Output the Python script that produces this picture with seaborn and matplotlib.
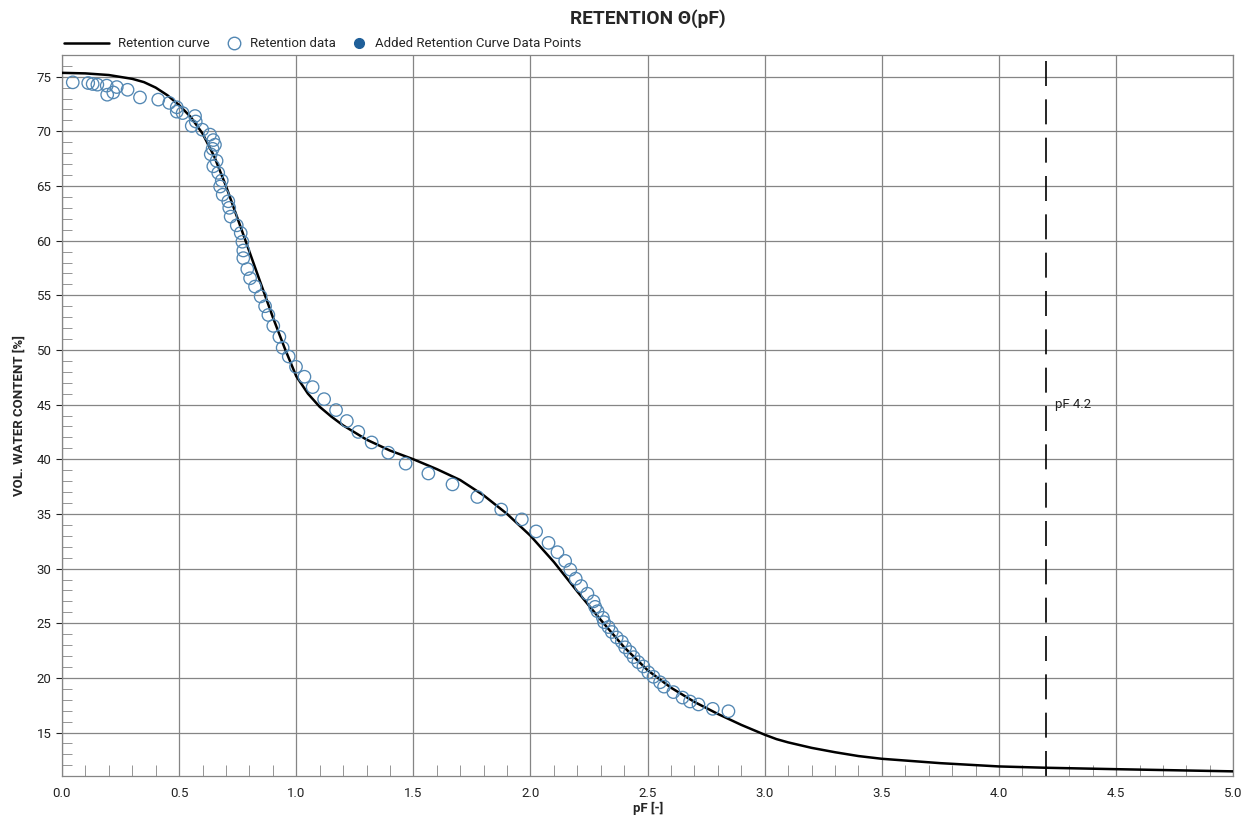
import numpy as np
import pandas as pd
import seaborn as sns
import matplotlib.pyplot as plt
from matplotlib.lines import Line2D
from matplotlib.legend_handler import HandlerBase
from matplotlib.ticker import MultipleLocator

# Retention curve (fitted)
curve_pf = [0.0, 0.1, 0.2, 0.3, 0.35, 0.4, 0.45, 0.5, 0.55, 0.6, 0.65, 0.7, 0.75,
            0.8, 0.85, 0.9, 0.95, 1.0, 1.05, 1.1, 1.15, 1.2, 1.3, 1.4, 1.5, 1.6,
            1.7, 1.8, 1.9, 2.0, 2.1, 2.2, 2.3, 2.4, 2.5, 2.6, 2.7, 2.8, 2.9, 2.95,
            3.0, 3.05, 3.1, 3.2, 3.3, 3.4, 3.5, 3.75, 4.0, 4.2, 4.5, 5.0]
curve_theta = [75.35, 75.3, 75.15, 74.8, 74.5, 74.0, 73.3, 72.4, 71.3, 69.8, 67.7,
               65.0, 62.0, 59.0, 56.0, 53.0, 50.2, 47.6, 46.0, 44.8, 43.9, 43.1,
               41.8, 40.8, 40.0, 39.1, 38.1, 36.7, 35.0, 33.0, 30.6, 27.9, 25.3,
               22.8, 20.7, 19.1, 17.8, 16.7, 15.7, 15.25, 14.8, 14.4, 14.1, 13.6,
               13.2, 12.85, 12.6, 12.2, 11.9, 11.78, 11.65, 11.45]

# Measured retention data
data_pf = [0.046, 0.112, 0.131, 0.151, 0.191, 0.193, 0.219, 0.234, 0.28, 0.333,
           0.411, 0.458, 0.49, 0.49, 0.515, 0.554, 0.568, 0.571, 0.599, 0.632,
           0.646, 0.653, 0.643, 0.635, 0.66, 0.646, 0.667, 0.682, 0.675, 0.686,
           0.71, 0.714, 0.72, 0.746, 0.763, 0.77, 0.774, 0.774, 0.791, 0.803,
           0.824, 0.848, 0.867, 0.881, 0.902, 0.928, 0.942, 0.968, 0.999, 1.035,
           1.07, 1.119, 1.17, 1.216, 1.265, 1.322, 1.393, 1.467, 1.564, 1.667,
           1.773, 1.875, 1.963, 2.024, 2.077, 2.115, 2.148, 2.17, 2.193, 2.216,
           2.243, 2.269, 2.276, 2.286, 2.309, 2.314, 2.333, 2.347, 2.368, 2.39,
           2.404, 2.425, 2.44, 2.46, 2.482, 2.503, 2.525, 2.553, 2.57, 2.61,
           2.649, 2.681, 2.717, 2.778, 2.845]
data_theta = [74.48, 74.42, 74.33, 74.27, 74.18, 73.35, 73.56, 74.05, 73.8, 73.1,
              72.9, 72.6, 72.2, 71.8, 71.67, 70.5, 71.4, 70.9, 70.15, 69.7,
              69.2, 68.77, 68.4, 67.9, 67.3, 66.8, 66.2, 65.5, 64.95, 64.2,
              63.6, 63.0, 62.2, 61.4, 60.7, 59.9, 59.1, 58.4, 57.4, 56.56,
              55.8, 54.9, 54.0, 53.2, 52.2, 51.2, 50.2, 49.4, 48.46, 47.55,
              46.6, 45.5, 44.5, 43.5, 42.5, 41.54, 40.6, 39.6, 38.7, 37.7,
              36.55, 35.4, 34.5, 33.4, 32.35, 31.5, 30.7, 29.9, 29.08, 28.4,
              27.7, 27.0, 26.5, 26.1, 25.5, 25.1, 24.65, 24.2, 23.7, 23.3,
              22.8, 22.36, 21.9, 21.44, 21.05, 20.5, 20.1, 19.6, 19.2, 18.7,
              18.2, 17.84, 17.57, 17.17, 16.95]

pf_limit = 4.2

curve = pd.DataFrame({'pF': curve_pf, 'theta': curve_theta})
data = pd.DataFrame({'pF': data_pf, 'theta': data_theta})


# legend line handle that reaches further left than the marker handles
class WideLine(HandlerBase):
    def create_artists(self, legend, orig_handle, xdescent, ydescent,
                       width, height, fontsize, trans):
        y = height / 2 - ydescent
        ln = Line2D([-xdescent - 2.45 * width, -xdescent + width], [y, y],
                    color=orig_handle.get_color(), linewidth=orig_handle.get_linewidth())
        ln.set_transform(trans)
        return [ln]


sns.set_style('white')
plt.rcParams['font.family'] = ['Roboto', 'DejaVu Sans']

fig, ax = plt.subplots(figsize=(12.47, 8.18), dpi=100)
fig.subplots_adjust(left=0.0497, right=0.989, top=0.933, bottom=0.051)

point_color = '#5287b3'
added_color = '#1f5f99'
grid_color = '#858585'

sns.lineplot(data=curve, x='pF', y='theta', color='black', linewidth=1.8, ax=ax, zorder=3)
sns.scatterplot(data=data, x='pF', y='theta', ax=ax, s=80, marker='o',
                facecolors='none', edgecolor=point_color, linewidth=0.95, zorder=4)

ax.axvline(pf_limit, color='black', linestyle=(0, (15, 8)), linewidth=1.2, zorder=2)
ax.text(pf_limit + 0.04, 45, 'pF 4.2', fontsize=9.5, va='center', ha='left', color='#222222')

ax.set_xlim(0, 5)
ax.set_ylim(11, 77)
ax.xaxis.set_minor_locator(MultipleLocator(0.1))
ax.yaxis.set_minor_locator(MultipleLocator(1))
ax.set_yticks(np.arange(15, 76, 5))
ax.set_xticks(np.arange(0, 5.01, 0.5))
ax.set_xticklabels([f'{v:.1f}' for v in np.arange(0, 5.01, 0.5)])

ax.grid(True, which='major', color=grid_color, linewidth=0.9)
ax.tick_params(axis='x', which='major', length=0, labelsize=9.5, pad=8, colors='#222222')
ax.tick_params(axis='x', which='minor', direction='in', length=8, color=grid_color, bottom=True)
ax.tick_params(axis='y', which='major', direction='out', length=4, labelsize=9.5,
               colors='#222222', left=True)
ax.tick_params(axis='y', which='minor', direction='in', length=7, color=grid_color, left=True)
for sp in ax.spines.values():
    sp.set_color(grid_color)
    sp.set_linewidth(0.9)

ax.set_xlabel('pF [-]', fontsize=9.5, fontweight='bold', labelpad=1)
ax.set_ylabel('VOL. WATER CONTENT [%]', fontsize=9.5, fontweight='bold', labelpad=8)
ax.text(0.5, 1.037, 'RETENTION Θ(pF)', transform=ax.transAxes, ha='center', va='bottom',
        fontsize=13.8, fontweight='bold')

line_handle = Line2D([], [], color='black', linewidth=1.8)
handles = [
    line_handle,
    Line2D([], [], linestyle='none', marker='o', markersize=9,
           markerfacecolor='none', markeredgecolor=point_color),
    Line2D([], [], linestyle='none', marker='o', markersize=7,
           markerfacecolor=added_color, markeredgecolor=added_color),
]
labels = ['Retention curve', 'Retention data', 'Added Retention Curve Data Points']
ax.legend(handles, labels, loc='lower left', bbox_to_anchor=(0.029, 1.006), ncol=3,
          frameon=False, fontsize=9.5, handlelength=1.0, columnspacing=1.3,
          handletextpad=0.7, borderaxespad=0.0, borderpad=0.0,
          handler_map={line_handle: WideLine()})

fig.savefig('out.png', dpi=100)
